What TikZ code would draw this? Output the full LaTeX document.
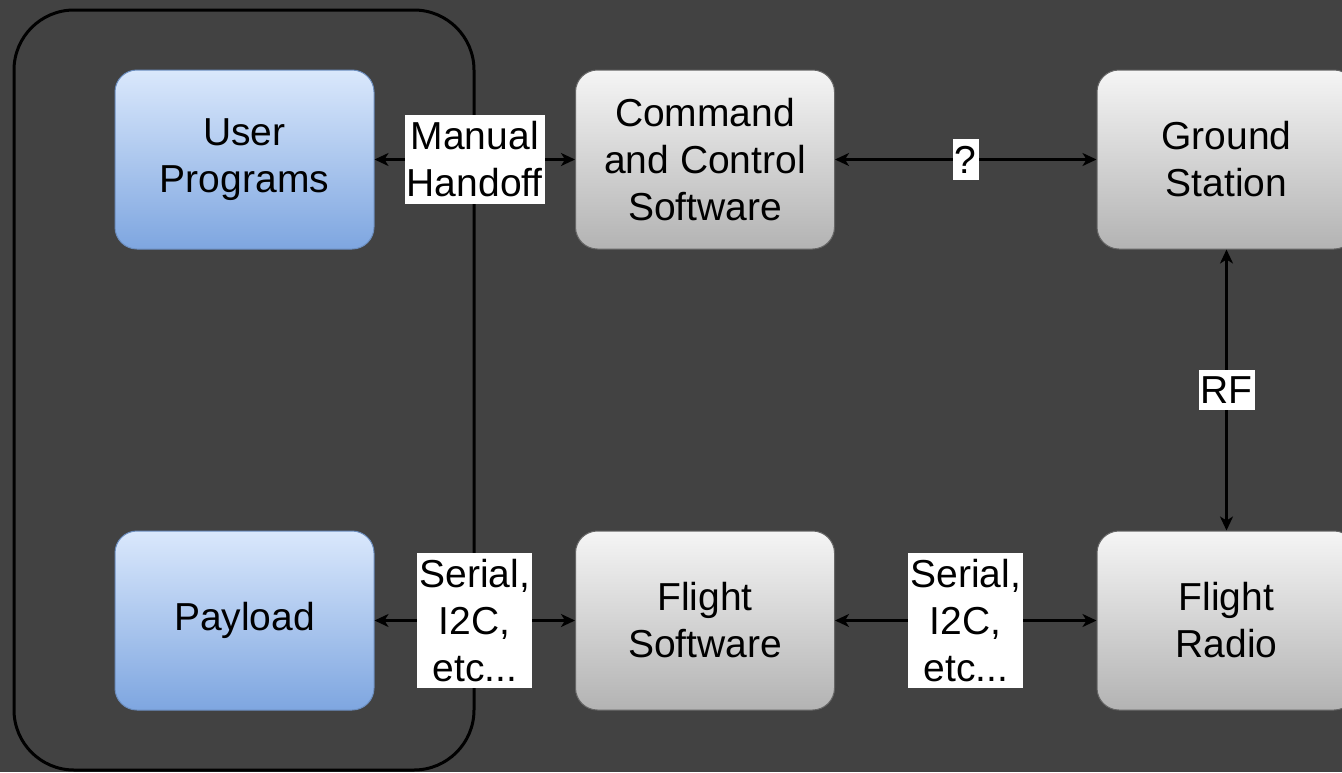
\documentclass[tikz,border=0pt]{standalone}
\usepackage{fontspec}
\setmainfont{Liberation Sans}
\usetikzlibrary{arrows.meta}
\definecolor{bgdark}{HTML}{424242}
\definecolor{bluetop}{HTML}{DAE8FC}
\definecolor{bluebot}{HTML}{7EA6E0}
\definecolor{bluestroke}{HTML}{6C8EBF}
\definecolor{graytop}{HTML}{F5F5F5}
\definecolor{graybot}{HTML}{B3B3B3}
\definecolor{graystroke}{HTML}{666666}
\tikzset{
  boxtext/.style={font=\fontsize{39}{47}\selectfont, align=center, text=black},
  block/.style={boxtext, rounded corners=22pt, minimum width=259pt, minimum height=179pt,
    inner sep=0pt, line width=1pt},
  blueblock/.style={block, draw=bluestroke, top color=bluetop, bottom color=bluebot},
  grayblock/.style={block, draw=graystroke, top color=graytop, bottom color=graybot},
  tip/.tip={Stealth[length=14pt,width=13pt,inset=4pt]},
  conn/.style={draw=black, line width=2.2pt, tip-tip},
  lbl/.style={boxtext, fill=white, inner xsep=2pt, inner ysep=6.5pt, outer sep=0pt},
}
\begin{document}
\begin{tikzpicture}[x=1pt,y=-1pt]
  \useasboundingbox (0,0) rectangle (1342,772);
  \clip (0,0) rectangle (1342,772);
  \fill[bgdark] (0,0) rectangle (1342,772);

  % payload side enclosure
  \draw[black, line width=3pt, rounded corners=60pt] (14,10) rectangle (474,770);

  % blocks
  \node[blueblock] (up)  at (244.5,159.5) {User\\Programs};
  \node[blueblock] (pl)  at (244.5,620.5) {Payload};
  \node[grayblock] (cc)  at (705,159.5)   {Command\\and Control\\Software};
  \node[grayblock] (fs)  at (705,620.5)   {Flight\\Software};
  \node[grayblock] (gs)  at (1226.5,159.5) {Ground\\Station};
  \node[grayblock] (fr)  at (1226.5,620.5) {Flight\\Radio};

  % links
  \draw[conn] (up.east) -- (cc.west) node[lbl, midway] (l1) {Manual\\Handoff};
  \draw[conn] (cc.east) -- (gs.west) node[lbl, midway] (l2) {?};
  \draw[conn] (gs.south) -- (fr.north) node[lbl, midway] (l3) {RF};
  \draw[conn] (pl.east) -- (fs.west) node[lbl, midway] (l4) {Serial,\\I2C,\\etc...};
  \draw[conn] (fs.east) -- (fr.west) node[lbl, midway] (l5) {Serial,\\I2C,\\etc...};
\end{tikzpicture}
\end{document}
